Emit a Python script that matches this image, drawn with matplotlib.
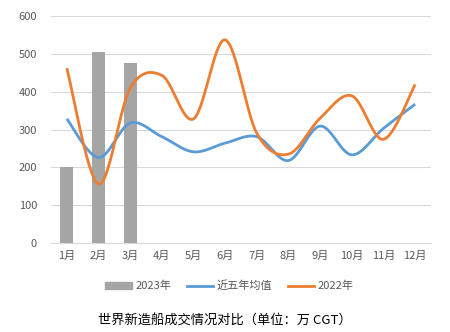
import numpy as np
import matplotlib.pyplot as plt
from matplotlib.lines import Line2D
from matplotlib.patches import Patch

plt.rcParams['font.family'] = ['Noto Sans CJK SC', 'DejaVu Sans']

months = ['1月', '2月', '3月', '4月', '5月', '6月', '7月', '8月', '9月', '10月', '11月', '12月']
bars_2023 = [202, 504, 476]
avg_5yr = [328, 226, 317, 281, 241, 264, 281, 218, 309, 233, 303, 367]
line_2022 = [462, 156, 409, 443, 328, 537, 290, 235, 330, 389, 274, 419]


def smooth(xs, ys, n=30):
    # Excel-style smoothed line: cubic bezier with catmull-rom control points
    xs = np.asarray(xs, float)
    ys = np.asarray(ys, float)
    px = np.concatenate([[xs[0]], xs, [xs[-1]]])
    py = np.concatenate([[ys[0]], ys, [ys[-1]]])
    ox, oy = [], []
    t = np.linspace(0, 1, n)
    for i in range(1, len(px) - 2):
        p0 = np.array([px[i], py[i]])
        p3 = np.array([px[i + 1], py[i + 1]])
        c1 = p0 + (np.array([px[i + 1], py[i + 1]]) - np.array([px[i - 1], py[i - 1]])) / 6
        c2 = p3 - (np.array([px[i + 2], py[i + 2]]) - np.array([px[i], py[i]])) / 6
        b = ((1 - t) ** 3)[:, None] * p0 + (3 * (1 - t) ** 2 * t)[:, None] * c1 \
            + (3 * (1 - t) * t ** 2)[:, None] * c2 + (t ** 3)[:, None] * p3
        ox.extend(b[:, 0])
        oy.extend(b[:, 1])
    return ox, oy


fig = plt.figure(figsize=(4.5, 3.32), dpi=100)
ax = fig.add_axes([51 / 450, 1 - 243 / 332, 380 / 450, 227 / 332])

x = np.arange(len(months))
ax.bar(x[:len(bars_2023)], bars_2023, width=0.4, color='#a5a5a5', zorder=2)
sx, sy = smooth(x, avg_5yr)
ax.plot(sx, sy, color='#5b9bd5', lw=2.0, zorder=3, solid_capstyle='butt')
sx, sy = smooth(x, line_2022)
ax.plot(sx, sy, color='#ed7d31', lw=2.0, zorder=4, solid_capstyle='butt')

ax.set_xlim(-0.5, 11.5)
ax.set_ylim(0, 600)
ax.set_yticks(range(0, 601, 100))
ax.set_xticks(x)
ax.set_xticklabels(months)
ax.grid(axis='y', color='#d9d9d9', lw=0.8, zorder=0)
for s in ['top', 'right', 'left']:
    ax.spines[s].set_visible(False)
ax.spines['bottom'].set_color('#d9d9d9')
ax.tick_params(length=0, labelsize=8, colors='#595959', pad=6)
ax.tick_params(axis='y', pad=10)

handles = [Patch(color='#a5a5a5'),
           Line2D([], [], color='#5b9bd5', lw=2),
           Line2D([], [], color='#ed7d31', lw=2)]
fig.legend(handles, ['2023年', '近五年均值', '2022年'], loc='center',
           bbox_to_anchor=(0.51, 1 - 286 / 332), ncol=3, frameon=False,
           fontsize=8, labelcolor='#595959', handlelength=2.4, handleheight=0.6,
           columnspacing=1.4, handletextpad=0.3)
fig.text(0.5, 1 - 321 / 332, '世界新造船成交情况对比（单位：万 CGT）', ha='center', va='center',
         fontsize=9.5, color='black')

fig.savefig('out.png', dpi=100)
